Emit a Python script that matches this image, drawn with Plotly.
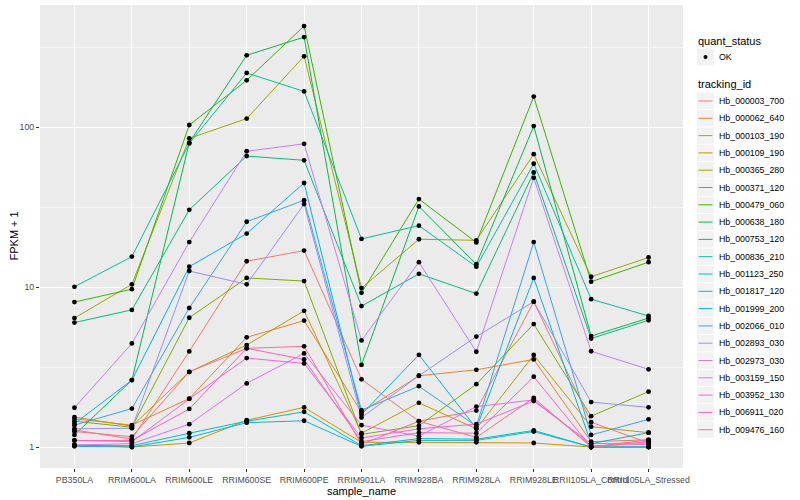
import plotly.graph_objects as go

samples = ["PB350LA", "RRIM600LA", "RRIM600LE", "RRIM600SE", "RRIM600PE", "RRIM901LA",
           "RRIM928BA", "RRIM928LA", "RRIM928LE", "RRII105LA_Control", "RRII105LA_Stressed"]

tracking_ids = ["Hb_000003_700", "Hb_000062_640", "Hb_000103_190", "Hb_000109_190", "Hb_000365_280",
                "Hb_000371_120", "Hb_000479_060", "Hb_000638_180", "Hb_000753_120", "Hb_000836_210",
                "Hb_001123_250", "Hb_001817_120", "Hb_001999_200", "Hb_002066_010", "Hb_002893_030",
                "Hb_002973_030", "Hb_003159_150", "Hb_003952_130", "Hb_006911_020", "Hb_009476_160"]

# FPKM + 1 values, one list per gene, in sample order
hb_000003_700 = [1.28, 1.12, 3.96, 14.5, 16.9, 2.65, 1.45, 1.69, 8.1, 1.43, 1.06]
hb_000062_640 = [1.50, 1.37, 2.01, 4.85, 6.17, 1.65, 2.79, 3.04, 3.53, 1.08, 1.11]
hb_000103_190 = [1.03, 1.00, 1.06, 1.47, 1.77, 1.07, 1.07, 1.07, 1.06, 1.00, 1.00]
hb_000109_190 = [1.54, 1.35, 2.95, 4.34, 7.1, 1.22, 1.89, 1.30, 3.76, 1.34, 1.23]
hb_000365_280 = [6.4, 10.4, 85, 113, 277, 9.85, 19.9, 19.6, 67.7, 11.6, 15.3]
hb_000371_120 = [1.45, 1.33, 6.43, 11.4, 10.9, 1.20, 1.36, 2.47, 5.87, 1.56, 2.22]
hb_000479_060 = [8.06, 9.7, 103, 196, 428, 9.2, 35.5, 19.0, 155, 10.8, 14.3]
hb_000638_180 = [1.19, 2.62, 80, 281, 365, 3.26, 31.9, 13.9, 101.5, 4.94, 6.4]
hb_000753_120 = [6.0, 7.2, 30.4, 65.9, 62, 7.6, 12.1, 9.1, 52, 4.77, 6.2]
hb_000836_210 = [10.04, 15.5, 79, 218, 167, 20.0, 24.2, 13.4, 59, 8.4, 6.6]
hb_001123_250 = [1.02, 1.02, 1.22, 1.45, 1.66, 1.02, 1.13, 1.12, 1.27, 1.00, 1.00]
hb_001817_120 = [1.01, 1.00, 1.15, 1.42, 1.46, 1.01, 1.10, 1.10, 1.25, 1.00, 1.00]
hb_001999_200 = [1.40, 2.62, 13.4, 21.6, 44.7, 1.60, 3.77, 1.31, 11.4, 1.05, 1.23]
hb_002066_010 = [1.37, 1.74, 7.4, 25.6, 34.9, 1.70, 2.40, 1.35, 19.1, 1.19, 1.49]
hb_002893_030 = [1.30, 1.31, 12.6, 10.4, 33.0, 1.53, 2.79, 4.9, 8.1, 1.91, 1.77]
hb_002973_030 = [1.76, 4.44, 19.1, 70.6, 78.6, 4.64, 14.3, 3.94, 48.2, 3.97, 3.06]
hb_003159_150 = [1.03, 1.05, 1.39, 2.50, 3.85, 1.37, 1.17, 1.79, 1.97, 1.02, 1.04]
hb_003952_130 = [1.10, 1.08, 2.00, 3.60, 3.33, 1.14, 1.30, 1.39, 1.94, 1.05, 1.06]
hb_006911_020 = [1.10, 1.10, 1.73, 4.14, 3.53, 1.08, 1.23, 1.22, 2.75, 1.00, 1.11]
hb_009476_160 = [1.25, 1.16, 2.95, 4.14, 4.26, 1.04, 1.45, 1.15, 2.03, 1.00, 1.08]

colors = ["#F8766D", "#EA8331", "#D89000", "#C09B00", "#A3A500", "#7CAE00", "#39B600",
          "#00BB4E", "#00BF7D", "#00C1A3", "#00BFC4", "#00BAE0", "#00B0F6", "#35A2FF",
          "#9590FF", "#C77CFF", "#E76BF3", "#FA62DB", "#FF62BC", "#FF6C91"]

series = [hb_000003_700, hb_000062_640, hb_000103_190, hb_000109_190, hb_000365_280,
          hb_000371_120, hb_000479_060, hb_000638_180, hb_000753_120, hb_000836_210,
          hb_001123_250, hb_001817_120, hb_001999_200, hb_002066_010, hb_002893_030,
          hb_002973_030, hb_003159_150, hb_003952_130, hb_006911_020, hb_009476_160]

FONT = "Liberation Sans, Arial, sans-serif"
W, H = 800, 500
L, R, T, B = 40, 117, 5, 32
PW, PH = W - L - R, H - T - B

def px(x):  # pixel -> paper x
    return (x - L) / PW

def py(y):  # pixel -> paper y
    return (H - B - y) / PH

fig = go.Figure()

for name, vals, col in zip(tracking_ids, series, colors):
    fig.add_trace(go.Scatter(x=samples, y=vals, mode="lines", name=name,
                             line=dict(color=col, width=1), showlegend=False))

all_x, all_y = [], []
for vals in series:
    all_x += samples
    all_y += vals
fig.add_trace(go.Scatter(x=all_x, y=all_y, mode="markers", name="OK",
                         marker=dict(color="black", size=4.8), showlegend=False))

# ---- legend (ggplot style), drawn as paper-space shapes and text ----
shapes, annos = [], []
key_x0, key_x1 = 697, 714
text_x = 717
annos.append(dict(text="quant_status", x=px(696), y=py(41), xref="paper", yref="paper",
                  xanchor="left", yanchor="middle", showarrow=False,
                  font=dict(size=11, color="black")))
shapes.append(dict(type="rect", xref="paper", yref="paper", x0=px(key_x0), x1=px(key_x1),
                   y0=py(48.5), y1=py(65.5), fillcolor="#F2F2F2", line=dict(width=0), layer="below"))
shapes.append(dict(type="circle", xref="paper", yref="paper", x0=px(703.5), x1=px(707.5),
                   y0=py(55), y1=py(59), fillcolor="black", line=dict(width=0)))
annos.append(dict(text="OK", x=px(text_x), y=py(57), xref="paper", yref="paper",
                  xanchor="left", yanchor="middle", showarrow=False,
                  font=dict(size=8.8, color="black")))
annos.append(dict(text="tracking_id", x=px(696), y=py(84), xref="paper", yref="paper",
                  xanchor="left", yanchor="middle", showarrow=False,
                  font=dict(size=11, color="black")))
step = 17.3
for i, (name, col) in enumerate(zip(tracking_ids, colors)):
    cy = 101 + step * i
    shapes.append(dict(type="rect", xref="paper", yref="paper", x0=px(key_x0), x1=px(key_x1),
                       y0=py(cy - step / 2 + 0.5), y1=py(cy + step / 2 - 0.5),
                       fillcolor="#F2F2F2", line=dict(width=0), layer="below"))
    shapes.append(dict(type="line", xref="paper", yref="paper", x0=px(698.5), x1=px(712.5),
                       y0=py(cy), y1=py(cy), line=dict(color=col, width=1)))
    annos.append(dict(text=name, x=px(text_x), y=py(cy), xref="paper", yref="paper",
                      xanchor="left", yanchor="middle", showarrow=False,
                      font=dict(size=8.8, color="black")))

# y axis title (placed like ggplot)
annos.append(dict(text="FPKM + 1", x=px(13), y=0.5, xref="paper", yref="paper",
                  xanchor="center", yanchor="middle", textangle=-90, showarrow=False,
                  font=dict(size=11, color="black")))

fig.update_layout(
    width=W, height=H,
    paper_bgcolor="white", plot_bgcolor="#EBEBEB",
    margin=dict(l=L, r=R, t=T, b=B, autoexpand=False),
    font=dict(family=FONT, size=9, color="#4D4D4D"),
    showlegend=False,
    shapes=shapes, annotations=annos,
    xaxis=dict(type="category", categoryorder="array", categoryarray=samples,
               range=[-0.6, 10.6], showgrid=True, gridcolor="white", gridwidth=1,
               ticks="outside", ticklen=3, tickcolor="#333333", tickangle=0,
               tickfont=dict(size=8.8, color="#4D4D4D"), zeroline=False, showline=False,
               automargin=False,
               title=dict(text="sample_name", font=dict(size=11, color="black"), standoff=3)),
    yaxis=dict(type="log", range=[-0.131, 2.763], tickvals=[1, 10, 100], ticktext=["1", "10", "100"],
               showgrid=True, gridcolor="white", gridwidth=1,
               minor=dict(tickvals=[10 ** -0.5, 10 ** 0.5, 10 ** 1.5, 10 ** 2.5], showgrid=True,
                          gridcolor="#F7F7F7", gridwidth=0.5, ticks=""),
               ticks="outside", ticklen=3, tickcolor="#333333", automargin=False,
               tickfont=dict(size=8.8, color="#4D4D4D"), zeroline=False, showline=False),
    hovermode=False,
)

fig.write_html("out.html", config={"displayModeBar": False},
               post_script="document.body.style.margin='0';")
